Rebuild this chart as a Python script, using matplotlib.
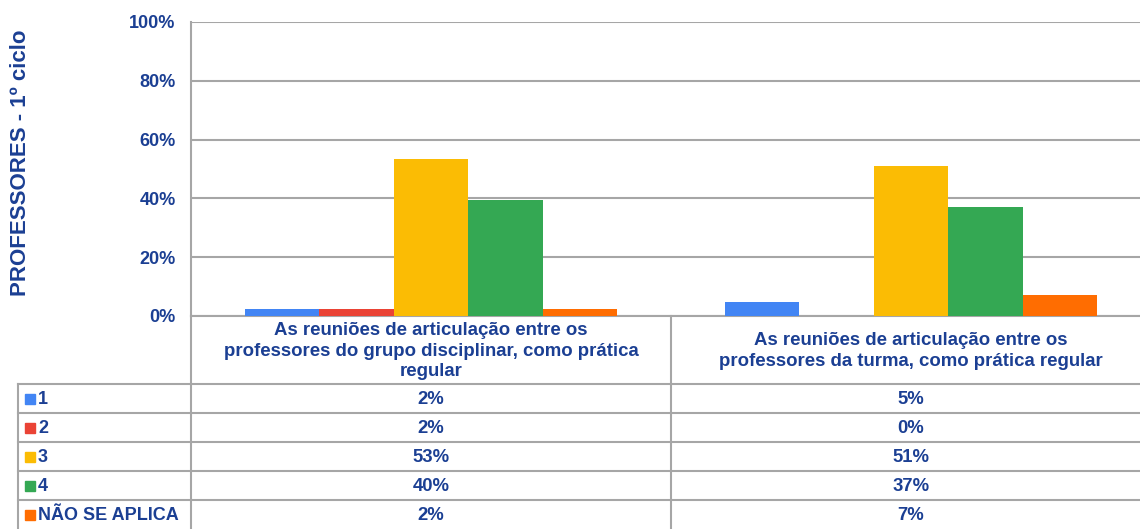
import numpy as np
import matplotlib.pyplot as plt
from matplotlib.patches import Rectangle

plt.rcParams['font.family'] = ['Liberation Sans', 'DejaVu Sans']
plt.rcParams['font.weight'] = 'bold'

categorias = ['As reuniões de articulação entre os\nprofessores do grupo disciplinar, como prática\nregular',
              'As reuniões de articulação entre os\nprofessores da turma, como prática regular']
series = ['1', '2', '3', '4', 'NÃO SE APLICA']
cores = ['#4285F4', '#EA4335', '#FBBC04', '#34A853', '#FF6D01']
valores = {
    '1': [2.4, 4.8],
    '2': [2.4, 0.0],
    '3': [53.4, 51.1],
    '4': [39.5, 37.1],
    'NÃO SE APLICA': [2.4, 7.1],
}
rotulos = {
    '1': ['2%', '5%'],
    '2': ['2%', '0%'],
    '3': ['53%', '51%'],
    '4': ['40%', '37%'],
    'NÃO SE APLICA': ['2%', '7%'],
}

azul = '#1B3F93'
cinza = '#A6A6A6'
W, H = 1140, 529

fig = plt.figure(figsize=(W / 100, H / 100), dpi=100)
# a área do gráfico continua um pouco para lá da margem direita
ax = fig.add_axes([191 / W, 1 - 316 / H, (1151 - 191) / W, (316 - 22) / H])

x = np.arange(len(categorias)) + 0.5
largura = 0.155
for i, s in enumerate(series):
    ax.bar(x + (i - 2) * largura, valores[s], largura, color=cores[i], zorder=3)

ax.set_xlim(0, 2)
ax.set_ylim(0, 100)
ax.set_yticks(range(0, 101, 20))
ax.set_yticklabels([f'{v}%' for v in range(0, 101, 20)], fontsize=13, color=azul, fontweight='bold')
ax.set_xticks([])
ax.tick_params(axis='y', length=0, pad=11)
ax.yaxis.grid(True, color=cinza, linewidth=1.5, zorder=0)
for lado in ['top', 'right']:
    ax.spines[lado].set_visible(False)
ax.spines['left'].set_color(cinza)
ax.spines['left'].set_linewidth(1.5)
ax.spines['bottom'].set_color(cinza)
ax.spines['bottom'].set_linewidth(1.5)

fig.text(21 / W, 1 - 163 / H, 'PROFESSORES - 1º ciclo', rotation=90, ha='center', va='center',
         fontsize=16, color=azul, fontweight='bold')

# tabela de dados por baixo do gráfico
tab = fig.add_axes([0, 0, 1, 1], zorder=5)
tab.set_xlim(0, W)
tab.set_ylim(H, 0)
tab.axis('off')

col_x = [191, 671, 1151]
topo_linhas = 384
alt_linha = 29
lw = 1.5

tab.plot([191, 191], [316, H], color=cinza, lw=lw)
tab.plot([671, 671], [316, H], color=cinza, lw=lw)
tab.plot([18, 18], [topo_linhas, H], color=cinza, lw=lw)
for k in range(len(series)):
    y = topo_linhas + k * alt_linha
    tab.plot([18, W], [y, y], color=cinza, lw=lw)

for j, cat in enumerate(categorias):
    tab.text((col_x[j] + col_x[j + 1]) / 2, 351, cat, ha='center', va='center',
             fontsize=13.4, color=azul, fontweight='bold', linespacing=1.3)

for i, s in enumerate(series):
    yc = topo_linhas + (i + 0.5) * alt_linha
    tab.add_patch(Rectangle((25, yc - 5), 10, 10, color=cores[i]))
    tab.text(38, yc + 1, s, ha='left', va='center', fontsize=13, color=azul, fontweight='bold')
    for j in range(len(categorias)):
        tab.text((col_x[j] + col_x[j + 1]) / 2, yc + 1, rotulos[s][j], ha='center', va='center',
                 fontsize=13.3, color=azul, fontweight='bold')

fig.savefig('out.png', dpi=100)
